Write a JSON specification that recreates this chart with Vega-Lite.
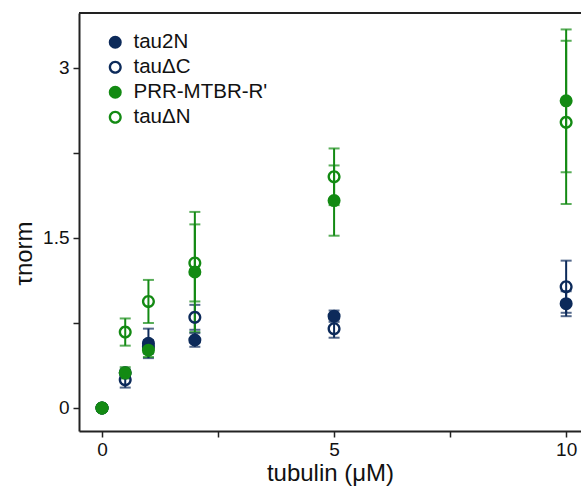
{
  "$schema": "https://vega.github.io/schema/vega-lite/v6.json",
  "autosize": "none",
  "width": 502,
  "height": 418,
  "padding": {"left": 79, "top": 13, "right": 0, "bottom": 59},
  "background": "white",
  "config": {
    "view": {"stroke": null},
    "font": "Liberation Sans",
    "axis": {
      "grid": false,
      "domainColor": "#222",
      "domainWidth": 2,
      "tickColor": "#222",
      "tickWidth": 1.5,
      "labelFontSize": 19,
      "labelColor": "#111",
      "titleColor": "#111",
      "titleFontWeight": "normal"
    }
  },
  "data": {
    "values": [
      {"series": "tau2N", "tubulin": 0, "tau": 0, "err": 0.02},
      {"series": "tau2N", "tubulin": 0.5, "tau": 0.31, "err": 0.03},
      {"series": "tau2N", "tubulin": 1, "tau": 0.57, "err": 0.13},
      {"series": "tau2N", "tubulin": 2, "tau": 0.60, "err": 0.06},
      {"series": "tau2N", "tubulin": 5, "tau": 0.81, "err": 0.05},
      {"series": "tau2N", "tubulin": 10, "tau": 0.92, "err": 0.11},
      {"series": "tauΔC", "tubulin": 0, "tau": 0, "err": 0.02},
      {"series": "tauΔC", "tubulin": 0.5, "tau": 0.25, "err": 0.07},
      {"series": "tauΔC", "tubulin": 1, "tau": 0.54, "err": 0.06},
      {"series": "tauΔC", "tubulin": 2, "tau": 0.80, "err": 0.11},
      {"series": "tauΔC", "tubulin": 5, "tau": 0.70, "err": 0.08},
      {"series": "tauΔC", "tubulin": 10, "tau": 1.07, "err": 0.23},
      {"series": "PRR-MTBR-R'", "tubulin": 0, "tau": 0, "err": 0.02},
      {"series": "PRR-MTBR-R'", "tubulin": 0.5, "tau": 0.31, "err": 0.05},
      {"series": "PRR-MTBR-R'", "tubulin": 1, "tau": 0.51, "err": 0.06},
      {"series": "PRR-MTBR-R'", "tubulin": 2, "tau": 1.20, "err": 0.53},
      {"series": "PRR-MTBR-R'", "tubulin": 5, "tau": 1.83, "err": 0.31},
      {"series": "PRR-MTBR-R'", "tubulin": 10, "tau": 2.71, "err": 0.63},
      {"series": "tauΔN", "tubulin": 0, "tau": 0, "err": 0.02},
      {"series": "tauΔN", "tubulin": 0.5, "tau": 0.67, "err": 0.12},
      {"series": "tauΔN", "tubulin": 1, "tau": 0.94, "err": 0.19},
      {"series": "tauΔN", "tubulin": 2, "tau": 1.28, "err": 0.34},
      {"series": "tauΔN", "tubulin": 5, "tau": 2.04, "err": 0.25},
      {"series": "tauΔN", "tubulin": 10, "tau": 2.52, "err": 0.72}
    ]
  },
  "layer": [
    {
      "mark": {"type": "rule", "color": "#222", "strokeWidth": 2},
      "encoding": {"y": {"datum": 3.485, "type": "quantitative"}}
    },
    {
      "mark": {"type": "errorbar", "ticks": {"size": 11}, "thickness": 2},
      "encoding": {
        "x": {
          "field": "tubulin",
          "type": "quantitative",
          "scale": {"domain": [-0.496, 10.32], "nice": false, "zero": false},
          "axis": {
            "title": "tubulin (μM)",
            "titleFontSize": 24,
            "titlePadding": 2,
            "values": [0, 2.5, 5, 7.5, 10],
            "labelExpr": "datum.value % 5 == 0 ? datum.label : ''",
            "tickSize": 6,
            "labelPadding": 3
          }
        },
        "y": {
          "field": "tau",
          "type": "quantitative",
          "scale": {"domain": [-0.203, 3.485], "nice": false, "zero": false},
          "axis": {
            "title": "τnorm",
            "titleFontSize": 24,
            "titlePadding": 6,
            "titleY": 240,
            "values": [0, 0.75, 1.5, 2.25, 3],
            "format": "~g",
            "labelExpr": "datum.value % 1.5 == 0 ? datum.label : ''",
            "tickSize": 6,
            "labelPadding": 4
          }
        },
        "yError": {"field": "err"},
        "color": {
          "field": "series",
          "type": "nominal",
          "sort": ["tau2N", "tauΔC", "PRR-MTBR-R'", "tauΔN"],
          "scale": {"domain": ["tau2N", "tauΔC", "PRR-MTBR-R'", "tauΔN"], "range": ["#0c2a5a", "#0c2a5a", "#138a13", "#138a13"]}
        }
      }
    },
    {
      "mark": {"type": "point", "size": 170, "filled": true, "opacity": 1, "strokeWidth": 0},
      "encoding": {
        "x": {"field": "tubulin", "type": "quantitative"},
        "y": {"field": "tau", "type": "quantitative"},
        "color": {
          "field": "series",
          "type": "nominal",
          "sort": ["tau2N", "tauΔC", "PRR-MTBR-R'", "tauΔN"],
          "legend": {
            "title": null,
            "orient": "none",
            "legendX": 26,
            "legendY": 19,
            "labelFontSize": 20.5,
            "labelColor": "#111",
            "rowPadding": 4,
            "symbolSize": 170,
            "symbolOpacity": 1,
            "symbolStrokeWidth": 0,
            "labelOffset": 8,
            "encode": {"symbols": {"update": {"opacity": {"value": 1}}}}
          }
        },
        "shape": {
          "field": "series",
          "type": "nominal",
          "sort": ["tau2N", "tauΔC", "PRR-MTBR-R'", "tauΔN"],
          "scale": {
            "domain": ["tau2N", "tauΔC", "PRR-MTBR-R'", "tauΔN"],
            "range": [
              "circle",
              "M-1,0A1,1 0 1,1 1,0A1,1 0 1,1 -1,0ZM-0.64,0A0.64,0.64 0 1,0 0.64,0A0.64,0.64 0 1,0 -0.64,0Z",
              "circle",
              "M-1,0A1,1 0 1,1 1,0A1,1 0 1,1 -1,0ZM-0.64,0A0.64,0.64 0 1,0 0.64,0A0.64,0.64 0 1,0 -0.64,0Z"
            ]
          },
          "legend": {
            "title": null,
            "orient": "none",
            "legendX": 26,
            "legendY": 19,
            "labelFontSize": 20.5,
            "labelColor": "#111",
            "rowPadding": 4,
            "symbolSize": 170,
            "symbolOpacity": 1,
            "symbolStrokeWidth": 0,
            "labelOffset": 8,
            "encode": {"symbols": {"update": {"opacity": {"value": 1}}}}
          }
        }
      }
    }
  ]
}
